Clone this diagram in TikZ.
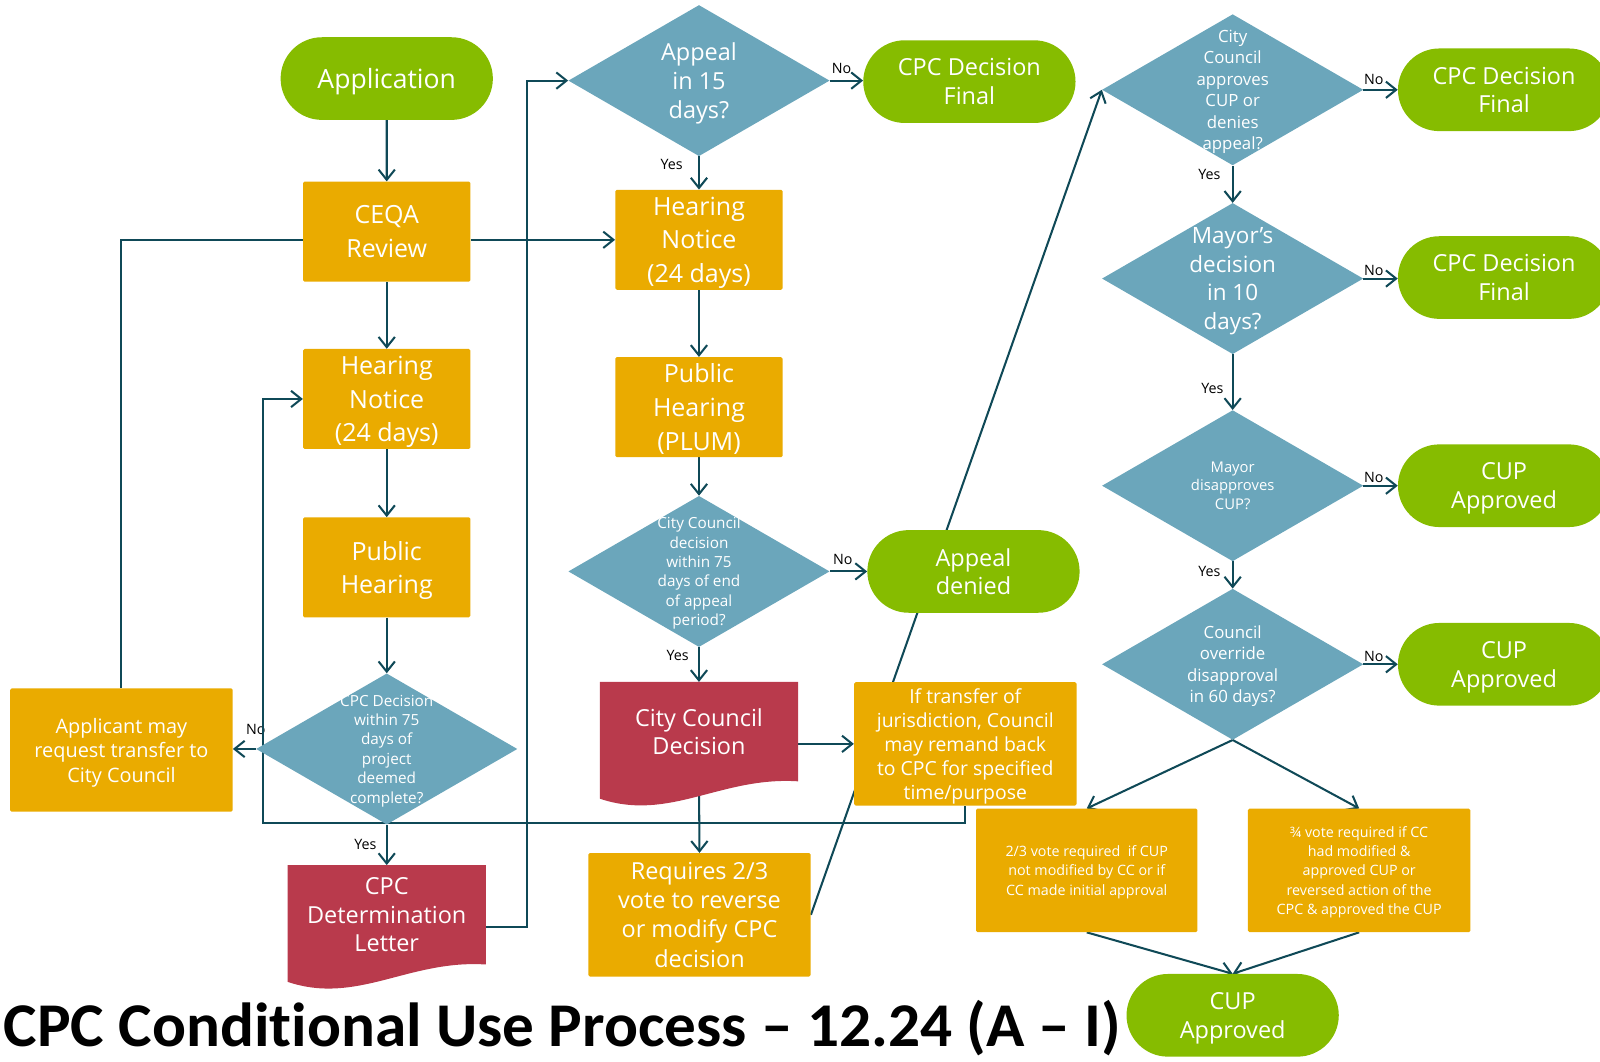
\documentclass[tikz,border=0pt]{standalone}
\usepackage{fontspec}
\setmainfont{Open Sans}
\newfontfamily\headfont{Carlito}[Ligatures=NoCommon]
\usepackage{graphicx}
\usetikzlibrary{shapes.geometric,shapes.misc,arrows.meta,calc}

\definecolor{cgreen}{HTML}{86BC00}
\definecolor{corange}{HTML}{EAAB00}
\definecolor{cteal}{HTML}{6BA6BB}
\definecolor{cred}{HTML}{B93A4C}
\definecolor{cline}{HTML}{0F4957}

\pgfdeclarelayer{bg}
\pgfsetlayers{bg,main}

\newcommand{\fsz}[2]{\fontsize{#1}{#2}\selectfont}
\newcommand{\docwave}[1]{%
  \fill[cred] (#1.north west) -- (#1.north east) -- (#1.south east)
    .. controls ($(#1.south east)+(-76,-5)$) and ($(#1.south east)+(-126,40)$)
    .. ($(#1.south west)+(0,17)$) -- cycle;}

\tikzset{
  flow/.style={draw=none, text=white, align=center, inner sep=0pt, text depth=0pt},
  term/.style={flow, shape=rounded rectangle, fill=cgreen,
    minimum width=208pt, minimum height=81pt, font=\fsz{23}{28}},
  proc/.style={flow, rectangle, fill=corange, rounded corners=1.5pt,
    minimum width=164pt, minimum height=98pt, font=\fsz{24.5}{33}},
  note/.style={proc, minimum width=218pt, minimum height=121pt, font=\fsz{19}{23.5}},
  decide/.style={flow, diamond, fill=cteal, minimum width=256pt,
    minimum height=148pt, inner sep=-20pt, font=\fsz{15}{19}},
  doc/.style={flow, rectangle, minimum width=194pt, minimum height=97pt,
    font=\fsz{23}{28}},
  lbl/.style={text=black, font=\fsz{14}{16}, inner sep=1pt},
  wire/.style={draw=cline, line width=2pt},
  conn/.style={wire, -{Straight Barb[length=10pt,width=16pt]}}
}

\begin{document}
\begin{tikzpicture}[x=1pt, y=-1pt]
  \path[use as bounding box] (0,0) rectangle (1568,1040);
  \clip (0,0) rectangle (1568,1040);

  \node[term, font=\fsz{26}{30}] (app) at (379,77) {Application};
  \node[proc] (ceqa) at (379,227) {CEQA\\Review};
  \node[proc] (hn1) at (379,391) {Hearing\\Notice\\(24 days)};
  \node[proc] (ph1) at (379,556) {Public\\Hearing};
  \node[decide] (d1) at (379,734)
    {CPC Decision\\within 75\\days of\\project\\deemed\\complete?};
  \node[note, font=\fsz{19.5}{24}] (apl) at (119,735)
    {Applicant may\\request transfer to\\City Council};
  \node[doc] (letter) at (379,896.5) {CPC\\Determination\\Letter};
  \coordinate (up) at (516,908);
  \coordinate (back) at (258,807);

  \node[decide, font=\fsz{23}{28}] (appeal) at (685,79) {Appeal\\in 15\\days?};
  \node[term] (fin1) at (950,80) {CPC Decision\\Final};
  \node[proc] (hn2) at (685,235) {Hearing\\Notice\\(24 days)};
  \node[proc] (ph2) at (685,399) {Public\\Hearing\\(PLUM)};
  \node[decide] (d2) at (685,560)
    {City Council\\decision\\within 75\\days of end\\of appeal\\period?};
  \node[term] (denied) at (954,560) {Appeal\\denied};
  \node[doc] (ccd) at (685,717) {City Council\\Decision};
  \node[note, font=\fsz{23}{28.5}] (reqv) at (685.5,896.5)
    {Requires 2/3\\vote to reverse\\or modify CPC\\decision};
  \node[note] (remand) at (946,729)
    {If transfer of\\jurisdiction, Council\\may remand back\\to CPC for specified\\time/purpose};

  \node[decide, font=\fsz{16.5}{21}] (d3) at (1208,88)
    {City\\Council\\approves\\CUP or\\denies\\appeal?};
  \node[term] (fin2) at (1474,88) {CPC Decision\\Final};
  \node[decide, font=\fsz{22}{28}] (d4) at (1208,273) {Mayor’s\\decision\\in 10\\days?};
  \node[term] (fin3) at (1474,272) {CPC Decision\\Final};
  \node[decide, font=\fsz{14.5}{18}] (d5) at (1208,476) {Mayor\\disapproves\\CUP?};
  \node[term] (cup1) at (1474,476) {CUP\\Approved};
  \node[decide, font=\fsz{16.5}{21}] (d6) at (1208,651)
    {Council\\override\\disapproval\\in 60 days?};
  \node[term] (cup2) at (1474,651) {CUP\\Approved};
  \node[note, font=\fsz{14}{19}, minimum width=217pt] (v23) at (1065,853)
    {2/3 vote required \ if CUP\\not modified by CC or if\\CC made initial approval};
  \node[note, font=\fsz{14}{19}] (v34) at (1332,853)
    {¾ vote required if CC\\had modified \&\\approved CUP or\\reversed action of the\\CPC \& approved the CUP};
  \node[term] (cup3) at (1208,995) {CUP\\Approved};

  \node[anchor=base west, inner sep=0pt, font=\headfont\bfseries\fsz{61}{66}] (title)
    at (3.5,1026) {\resizebox{1095pt}{\height}{CPC Conditional Use Process – 12.24 (A – I)}};

  \begin{pgfonlayer}{bg}
    \draw[conn] (app) -- (ceqa);
    \draw[conn] (ceqa) -- (hn1);
    \draw[conn] (hn1) -- (ph1);
    \draw[conn] (ph1) -- (d1.north);
    \draw[conn] (d1.south) -- (letter.north)
      node[lbl, pos=0.5, left=8pt] (y1) {Yes};
    \draw[conn] (d1.west) -- (d1.west -| apl.east)
      node[lbl, pos=0, above=12pt] (n1) {No};
    \draw[wire] (apl.north) |- (ceqa.west |- hn2.west);
    \draw[conn] (ceqa.east |- hn2.west) -- (hn2.west);
    \draw[conn] (letter.east |- up) -- (up) |- (appeal.west);
    \draw[conn] (remand.south) |- (back) |- (hn1.west);

    \draw[conn] (appeal.east) -- (appeal.east -| fin1.west)
      node[lbl, pos=0.35, above=5pt] (n2) {No};
    \draw[conn] (appeal.south) -- (hn2.north)
      node[lbl, pos=0.25, left=14pt] (y2) {Yes};
    \draw[conn] (hn2) -- (ph2);
    \draw[conn] (ph2) -- (d2.north);
    \draw[conn] (d2.east) -- (denied.west)
      node[lbl, pos=0.35, above=5pt] (n3) {No};
    \draw[conn] (d2.south) -- (ccd.north)
      node[lbl, pos=0.24, left=8pt] (y3) {Yes};
    \draw[conn] (ccd.east |- remand.west) -- (remand.west);
    \draw[conn] (ccd.south) -- (reqv.north);
    \draw[conn] (reqv.east) -- (d3.west);

    \draw[conn] (d3.east) -- (fin2.west)
      node[lbl, pos=0.3, above=3pt] (n4) {No};
    \draw[conn] (d3.south) -- (d4.north)
      node[lbl, pos=0.25, left=10pt] (y4) {Yes};
    \draw[conn] (d4.east) -- (d4.east -| fin3.west)
      node[lbl, pos=0.3, above=1pt] (n5) {No};
    \draw[conn] (d4.south) -- (d5.north)
      node[lbl, pos=0.62, left=7pt] (y5) {Yes};
    \draw[conn] (d5.east) -- (cup1.west)
      node[lbl, pos=0.3, above=1pt] (n6) {No};
    \draw[conn] (d5.south) -- (d6.north)
      node[lbl, pos=0.37, left=10pt] (y6) {Yes};
    \draw[conn] (d6.east) -- (cup2.west)
      node[lbl, pos=0.3, above=1pt] (n7) {No};
    \draw[conn] (d6.south) -- (v23.north);
    \draw[conn] (d6.south) -- (v34.north);
    \draw[conn] (v23.south) -- (cup3.north);
    \draw[conn] (v34.south) -- (cup3.north);

    \docwave{letter}
    \docwave{ccd}
  \end{pgfonlayer}
\end{tikzpicture}
\end{document}
